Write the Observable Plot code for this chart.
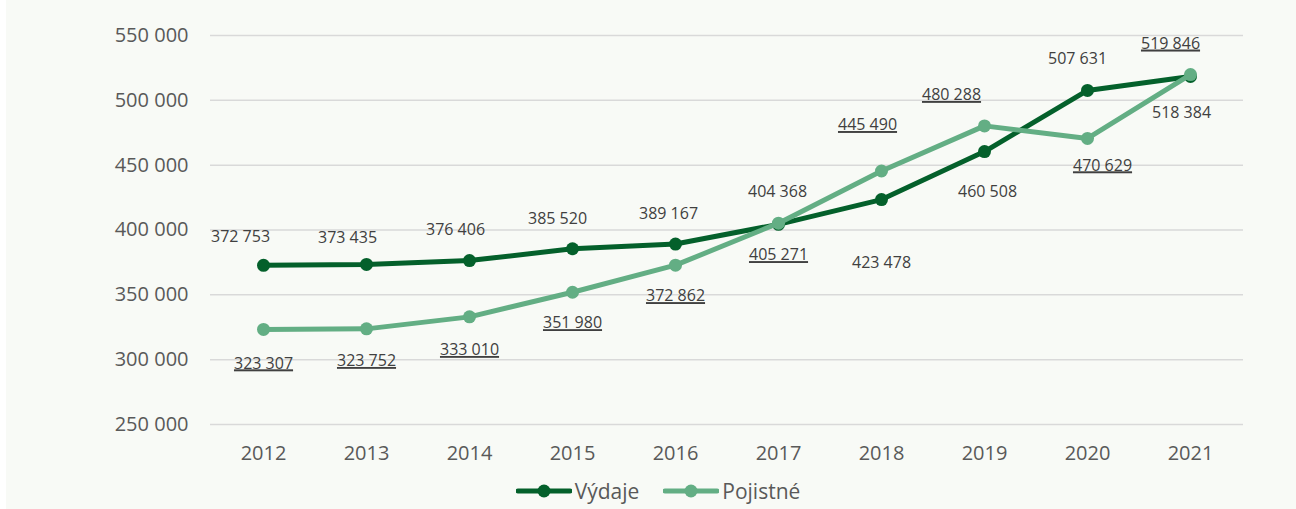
<!DOCTYPE html>
<html><head><meta charset="utf-8">
<script src="https://cdn.jsdelivr.net/npm/d3@7"></script>
<script src="https://cdn.jsdelivr.net/npm/@observablehq/plot@0.6"></script>
<style>
html,body{margin:0;padding:0;background:#fff;}
#wrap{margin-left:6px;width:1290px;height:509px;background:#f8faf6;font-family:"Open Sans",sans-serif;overflow:hidden;}
#legend{display:flex;justify-content:center;align-items:center;height:38px;font-size:21px;color:#595959;padding-left:14px;}
.item{display:flex;align-items:center;margin:0 12px;}
.item svg{margin-right:3px;}
</style></head>
<body><div id="wrap"><div id="chart"></div><div id="legend"></div></div>
<script>
const years = ["2012","2013","2014","2015","2016","2017","2018","2019","2020","2021"];
const vydaje = [372753,373435,376406,385520,389167,404368,423478,460508,507631,518384];
const pojistne = [323307,323752,333010,351980,372862,405271,445490,480288,470629,519846];
const yTicks = [250000,300000,350000,400000,450000,500000,550000];
const seriesNames = ["Výdaje","Pojistné"];
const colors = ["#04602b","#63ae84"];
// label offsets (layout, px)
const vydajeLabelOffset = [[-23,-28],[-19,-27],[-14,-31],[-15,-30],[-7,-30],[-1,-32],[0,63],[3,40],[-10,-32],[-9,36]];
const pojistneLabelOffset = [[0,34],[0,32],[0,33],[0,31],[0,31],[0,32],[-14,-46],[-33,-31],[15,27],[-20,-31]];

const fmt = v => d3.format(",")(v).replace(/,/g, " ");
const dV = years.map((y,i)=>({year:y, value:vydaje[i], series:seriesNames[0]}));
const dP = years.map((y,i)=>({year:y, value:pojistne[i], series:seriesNames[1]}));

const labelMarks = [];
dV.forEach((d,i)=>labelMarks.push(Plot.text([d],{x:"year",y:"value",text:d=>fmt(d.value),dx:vydajeLabelOffset[i][0],dy:vydajeLabelOffset[i][1],fill:"#404040",fontSize:16,ariaDescription:"vlabel"})));
dP.forEach((d,i)=>labelMarks.push(Plot.text([d],{x:"year",y:"value",text:d=>fmt(d.value),dx:pojistneLabelOffset[i][0],dy:pojistneLabelOffset[i][1],fill:"#404040",fontSize:16,ariaDescription:"plabel"})));

const plot = Plot.plot({
  width:1290, height:472,
  marginLeft:204, marginRight:53, marginTop:35, marginBottom:48,
  style:{background:"transparent",fontFamily:"Open Sans, sans-serif",fontSize:"20px",color:"#595959"},
  x:{type:"point",domain:years,padding:0.5,tickSize:0,tickPadding:21,label:null},
  y:{domain:[250000,550000],ticks:yTicks,tickSize:0,tickPadding:22,tickFormat:fmt,label:null},
  marks:[
    Plot.ruleY(yTicks,{stroke:"#d9d9d9",strokeWidth:1.5}),
    Plot.line(dV,{x:"year",y:"value",stroke:colors[0],strokeWidth:5}),
    Plot.dot(dV,{x:"year",y:"value",fill:colors[0],r:6.5}),
    Plot.line(dP,{x:"year",y:"value",stroke:colors[1],strokeWidth:5}),
    Plot.dot(dP,{x:"year",y:"value",fill:colors[1],r:6.5}),
    ...labelMarks
  ]
});
plot.querySelectorAll('[aria-description="plabel"]').forEach(g=>{
  g.style.textDecoration="underline";
  g.querySelectorAll("text").forEach(t=>t.style.textDecoration="underline");
});
document.getElementById("chart").appendChild(plot);

const leg = document.getElementById("legend");
seriesNames.forEach((n,i)=>{
  const it = document.createElement("div"); it.className="item";
  it.innerHTML = `<svg width="56" height="16"><line x1="2" x2="54" y1="8" y2="8" stroke="${colors[i]}" stroke-width="5" stroke-linecap="round"/><circle cx="28" cy="8" r="6.5" fill="${colors[i]}"/></svg><span>${n}</span>`;
  leg.appendChild(it);
});
</script></body></html>
